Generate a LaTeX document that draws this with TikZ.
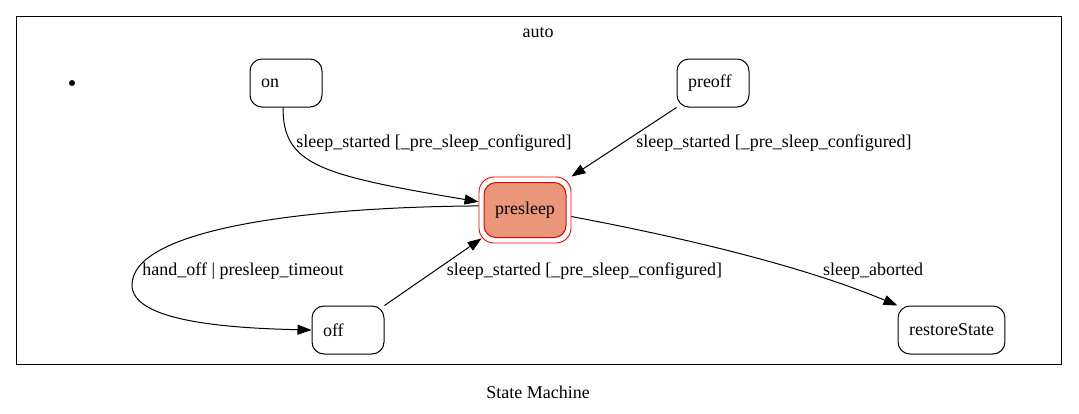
\documentclass[tikz,border=0pt]{standalone}
\usepackage{fontspec}
\setmainfont{Liberation Serif}
\usetikzlibrary{calc,arrows.meta}

\begin{document}
\begin{tikzpicture}[x=1pt,y=-1pt,
	every node/.style={font=\fontsize{18}{21}\selectfont},
	state/.style={draw, line width=1pt, rounded corners=12pt, minimum width=72pt, minimum height=48pt, inner xsep=11pt},
	lstate/.style={state, text width=50pt, align=left},
	trans/.style={line width=1pt, -{Triangle[length=14pt,width=10pt]}},
	lbl/.style={inner sep=0pt}]
				\useasboundingbox (0,0) rectangle (1079,413);
				\draw [line width=1pt] (16,16) coordinate (c_nw) rectangle (1061,364) coordinate (c_se);
				\node [lbl] (auto) at (538,33) {auto};
				\node [lbl] (caption) at (538,392) {State Machine};
			    \fill (72,83) coordinate (init) circle (3pt);
			    \node [lstate] (on) at (286,83) {on};
			    \node [lstate] (preoff) at (713,83) {preoff};
			    \node [lstate] (off) at (348,330) {off};
			    \node [state] (restore) at (951.5,330) {restoreState};
			    \node [draw=red, line width=0.9pt, rounded corners=15pt, minimum width=92pt, minimum height=66pt] (presleep) at (525,210) {};
			    \node [state, draw=red!90!black, fill={rgb,255:red,233;green,150;blue,122}, minimum width=82pt, minimum height=55pt] (presleep_in) at (presleep) {presleep};
				\draw [trans] ([xshift=-3pt]on.south) .. controls (283,165) and (320,175) .. (presleep.170);
				\draw [trans] (preoff.south west) -- (presleep.north east);
				\draw [trans] (presleep.175) .. controls (300,207) and (132,230) .. (132,285) .. controls (132,320) and (220,328) .. (off.west);
				\draw [trans] (off.north east) -- ([shift={(3pt,5pt)}]presleep.south west);
				\draw [trans] (presleep.-8) .. controls (680,237) and (800,265) .. (restore.north west);
				\node [lbl] (l_on) at (434,143) {sleep\_started [\_pre\_sleep\_configured]};
				\node [lbl] (l_preoff) at (774,143) {sleep\_started [\_pre\_sleep\_configured]};
				\node [lbl] (l_hand) at (243,271) {hand\_off | presleep\_timeout};
				\node [lbl] (l_off) at (584.5,271) {sleep\_started [\_pre\_sleep\_configured]};
				\node [lbl] (l_abort) at (873,271) {sleep\_aborted};
			\end{tikzpicture}
\end{document}
